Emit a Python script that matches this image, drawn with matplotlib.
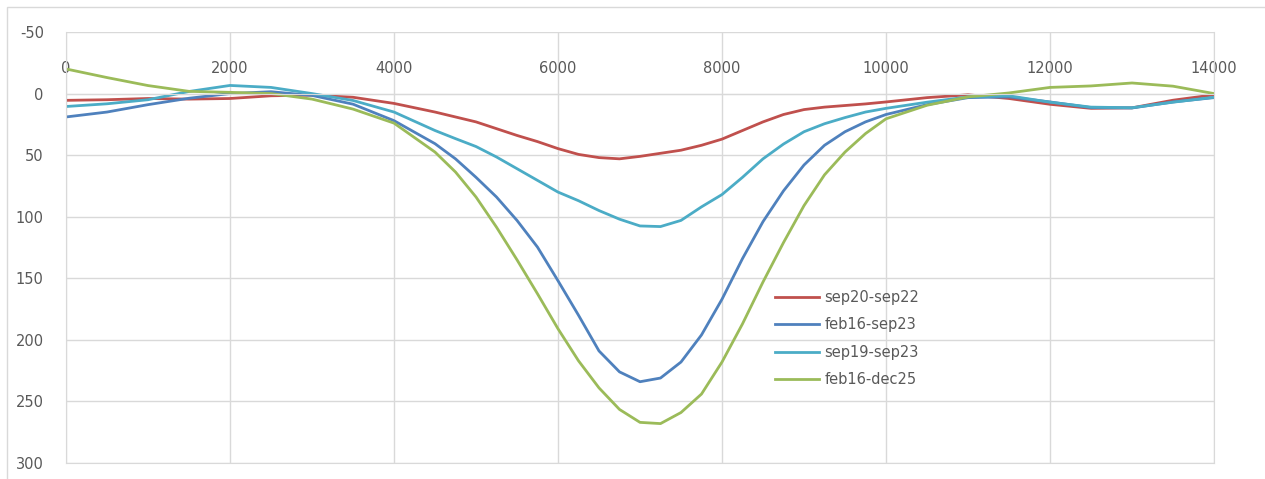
import matplotlib.pyplot as plt
from matplotlib.patches import Rectangle

plt.rcParams['axes.unicode_minus'] = False

# sample positions
x = [0, 500, 1000, 1500, 2000, 2500, 3000, 3500, 4000, 4500, 4750, 5000, 5250, 5500,
     5750, 6000, 6250, 6500, 6750, 7000, 7250, 7500, 7750, 8000, 8250, 8500, 8750,
     9000, 9250, 9500, 9750, 10000, 10500, 11000, 11500, 12000, 12500, 13000, 13500,
     14000]

sep20_sep22 = [5.5, 5, 4, 4.5, 4, 1.8, 1.3, 3, 8, 15, 19, 23, 28.5, 34, 39, 44.7, 49.4,
               52, 53, 51, 48.5, 46, 42, 37, 30, 23, 17, 13, 11, 9.7, 8.4, 6.8, 3.3, 1,
               4, 8.7, 12, 11.6, 5.4, 1]
feb16_sep23 = [19, 15, 9, 3.8, 0, -1.5, 1.5, 8.6, 22, 40.7, 53, 68, 84, 103, 124.7, 152,
               180, 209, 226, 234, 231, 218, 196, 167, 134, 104, 79, 58, 42, 31, 23, 17,
               9, 3.3, 2.7, 6.8, 11.4, 11.7, 6.8, 3.3]
sep19_sep23 = [10.5, 8.3, 5, -1.7, -6.6, -5, 0, 5.6, 15, 30, 36.6, 43, 51.5, 61, 70.5, 80,
               87, 95, 102, 107.5, 108, 103, 92, 82, 68, 53, 41, 31, 24.5, 19.5, 15, 12,
               7, 2.7, 1.8, 7, 11, 11.5, 7, 3]
feb16_dec25 = [-20, -13, -6.5, -1.8, -1, 0, 4.5, 12.6, 24, 47.5, 63.7, 84, 108.5, 135,
               162.6, 191, 217, 239, 256.5, 267, 268, 259, 244, 218, 187, 153, 121, 91,
               66, 47.5, 32.5, 20.5, 9.5, 2.7, -0.5, -5, -6.2, -8.6, -6, 0]

series = [
    ('sep20-sep22', sep20_sep22, '#C0504D'),
    ('feb16-sep23', feb16_sep23, '#4F81BD'),
    ('sep19-sep23', sep19_sep23, '#4BACC6'),
    ('feb16-dec25', feb16_dec25, '#9BBB59'),
]

txt = '#595959'
grid = '#D9D9D9'

fig = plt.figure(figsize=(12.65, 4.79), dpi=100)
fig.patches.append(Rectangle((7 / 1265, -0.1), 1.1, 1.1 - 7 / 479,
                             transform=fig.transFigure, fill=False,
                             edgecolor='#D9D9D9', linewidth=1))
ax = fig.add_axes([66 / 1265, 1 - 463 / 479, 1148 / 1265, 431 / 479])

for name, vals, col in series:
    ax.plot(x, vals, color=col, lw=2, label=name)

ax.set_xlim(0, 14000)
ax.set_ylim(300, -50)
ax.set_yticks(range(-50, 301, 50))
ax.set_xticks(range(0, 14001, 2000))
ax.grid(True, color=grid, lw=1)
ax.set_axisbelow(True)

for s in ['left', 'right', 'bottom']:
    ax.spines[s].set_color(grid)
ax.spines['top'].set_position(('data', 0))
ax.spines['top'].set_color(grid)
ax.xaxis.set_ticks_position('top')
ax.tick_params(axis='x', length=0, pad=13, labelsize=10.5, labelcolor=txt)
ax.tick_params(axis='y', length=0, pad=16, labelsize=10.5, labelcolor=txt)

leg = ax.legend(loc='upper left', bbox_to_anchor=(0.606, 0.432), frameon=False,
                fontsize=10.5, handlelength=3, labelspacing=0.85, handletextpad=0.4)
for t in leg.get_texts():
    t.set_color(txt)

plt.savefig('out.png', dpi=100)
